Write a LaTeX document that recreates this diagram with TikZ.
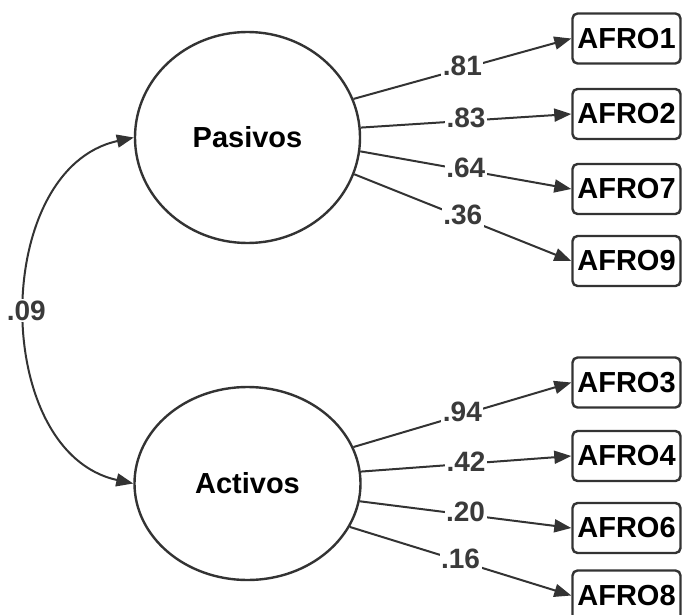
\documentclass[tikz,border=0pt]{standalone}
\usepackage{fontspec}
\setmainfont{Liberation Sans}
\usetikzlibrary{arrows.meta,shapes.geometric}
\definecolor{edgegray}{HTML}{333333}
\definecolor{labelgray}{HTML}{3A3A3A}
\tikzset{
  latent/.style={ellipse, draw=edgegray, line width=2.4pt, inner sep=0pt,
    font=\fontsize{29}{31}\selectfont\bfseries},
  indicator/.style={rectangle, draw=edgegray, line width=2.4pt, rounded corners=5pt,
    minimum width=108pt, minimum height=50pt, inner sep=0pt,
    font=\fontsize{29}{31}\selectfont\bfseries},
  loading/.style={draw=edgegray, line width=2pt,
    -{Triangle[length=17pt,width=13pt]}},
  coef/.style={fill=white, inner sep=1.5pt, text=labelgray, yshift=2.5pt,
    font=\fontsize{28}{30}\selectfont\bfseries},
}
\begin{document}
\begin{tikzpicture}[x=1pt,y=-1pt]
\clip (0,0) rectangle (682,615);
\useasboundingbox (0,0) rectangle (682,615);

% latent factors
\node[latent, minimum width=225pt, minimum height=211pt] (pas) at (247.5,137.5) {Pasivos};
\node[latent, minimum width=226pt, minimum height=193pt] (act) at (247.5,483.5) {Activos};

% observed indicators
\node[indicator] (a1) at (626.5,38.5)  {AFRO1};
\node[indicator] (a2) at (626.5,114)   {AFRO2};
\node[indicator] (a7) at (626.5,189)   {AFRO7};
\node[indicator] (a9) at (626.5,261)   {AFRO9};
\node[indicator] (a3) at (626.5,382.5) {AFRO3};
\node[indicator] (a4) at (626.5,456)   {AFRO4};
\node[indicator] (a6) at (626.5,528)   {AFRO6};
\node[indicator] (a8) at (626.5,595.5) {AFRO8};

% factor loadings
\draw[loading] (pas.20.6) -- node[coef]{.81} (a1.west);
\draw[loading] (pas.5.3)  -- node[coef]{.83} (a2.west);
\draw[loading] (pas.-7.8) -- node[coef]{.64} (a7.west);
\draw[loading] (pas.-19.2) -- node[coef]{.36} (a9.west);
\draw[loading] (act.19.5) -- node[coef]{.94} (a3.west);
\draw[loading] (act.6.8)  -- node[coef]{.42} (a4.west);
\draw[loading] (act.-9.3) -- node[coef]{.20} (a6.west);
\draw[loading] (act.-23.4) -- node[coef]{.16} (a8.west);

% factor correlation
\draw[draw=edgegray, line width=2pt,
  {Triangle[length=17pt,width=13pt]}-{Triangle[length=17pt,width=13pt]}]
  (pas.west) .. controls +(-143,31) and +(-143,-31) .. node[coef, yshift=-2.5pt]{.09} (act.west);
\end{tikzpicture}
\end{document}
